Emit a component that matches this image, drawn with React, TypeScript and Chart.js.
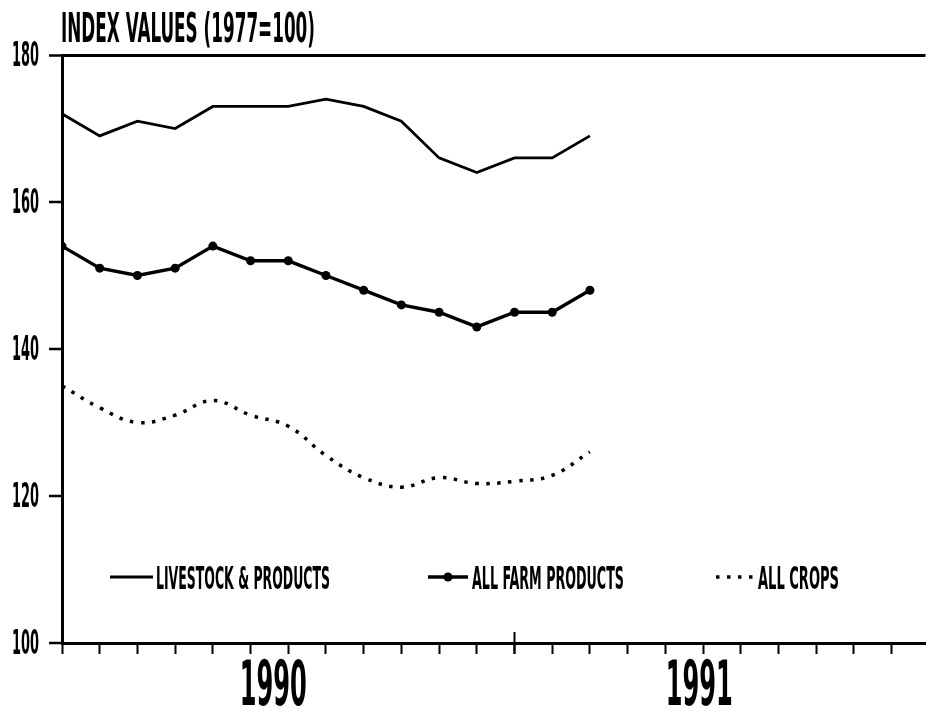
import React, { useEffect, useRef } from 'react';
import { Chart, registerables } from 'chart.js';

Chart.register(...registerables);

// ---- data ----
const TITLE = 'INDEX VALUES (1977=100)';
const months = ['Jan 90', 'Feb 90', 'Mar 90', 'Apr 90', 'May 90', 'Jun 90', 'Jul 90', 'Aug 90', 'Sep 90', 'Oct 90', 'Nov 90', 'Dec 90', 'Jan 91', 'Feb 91', 'Mar 91'];
const livestock = [172, 169, 171, 170, 173, 173, 173, 174, 173, 171, 166, 164, 166, 166, 169];
const allFarm = [154, 151, 150, 151, 154, 152, 152, 150, 148, 146, 145, 143, 145, 145, 148];
const allCrops = [135, 132, 130, 131, 133, 131, 129.5, 125.5, 122.5, 121.2, 122.5, 121.7, 122, 122.8, 126];
const seriesNames = ['LIVESTOCK & PRODUCTS', 'ALL FARM PRODUCTS', 'ALL CROPS'];
const yTicks = [100, 120, 140, 160, 180];
const monthTicks = [0, 1, 2, 3, 4, 5, 6, 7, 8, 9, 10, 11, 12, 13, 14, 15, 16, 17, 18, 19, 20, 21, 22];
const yearLabels = ['1990', '1991'];

const FAMILY = '"Liberation Sans Narrow","DejaVu Sans Condensed","DejaVu Sans",sans-serif';

function fitText(ctx: CanvasRenderingContext2D, text: string, x: number, base: number, cap: number, width: number, weight: string, align: string) {
  ctx.save();
  ctx.font = `${weight} 100px ${FAMILY}`;
  const capRatio = (ctx.measureText('H').actualBoundingBoxAscent || 72) / 100;
  const size = cap / capRatio;
  ctx.font = `${weight} ${size}px ${FAMILY}`;
  const w = ctx.measureText(text).width;
  const sx = width / w;
  const left = align === 'left' ? x : align === 'right' ? x - width : x - width / 2;
  ctx.translate(left, base);
  ctx.scale(sx, 1);
  ctx.fillStyle = '#000';
  ctx.textAlign = 'left';
  ctx.textBaseline = 'alphabetic';
  ctx.fillText(text, 0, 0);
  ctx.restore();
}

const oldStylePlugin = {
  id: 'oldStyle',
  beforeDraw(chart: any) {
    const ctx = chart.ctx;
    ctx.save();
    ctx.fillStyle = '#fff';
    ctx.fillRect(0, 0, chart.width, chart.height);
    ctx.restore();
  },
  afterDraw(chart: any) {
    const ctx: CanvasRenderingContext2D = chart.ctx;
    const { chartArea, scales } = chart;
    const xs = scales.x;
    const ys = scales.y;
    // title
    fitText(ctx, TITLE, 61, 42, 30, 254, 'bold', 'left');
    // y tick labels
    yTicks.forEach((v) => {
      fitText(ctx, String(v), 39, ys.getPixelForValue(v) + 11, 24, 27, 'bold', 'right');
    });
    // year labels (centred mid-year)
    const yearCenters = [5.6, 16.9];
    yearLabels.forEach((t, i) => {
      fitText(ctx, t, xs.getPixelForValue(yearCenters[i]), 705, 45, 67, 'bold', 'center');
    });
    // tall year-boundary tick
    const xb = xs.getPixelForValue(12);
    ctx.save();
    ctx.strokeStyle = '#000';
    ctx.lineWidth = 2;
    ctx.beginPath();
    ctx.moveTo(xb, chartArea.bottom - 11);
    ctx.lineTo(xb, chartArea.bottom + 11);
    ctx.stroke();
    ctx.restore();

    // legend
    const ly = 577;
    const ds = chart.data.datasets;
    ctx.save();
    ctx.strokeStyle = '#000';
    ctx.fillStyle = '#000';
    // 1: solid line
    ctx.lineWidth = ds[0].borderWidth;
    ctx.beginPath();
    ctx.moveTo(110, ly);
    ctx.lineTo(153, ly);
    ctx.stroke();
    // 2: line with marker
    ctx.lineWidth = ds[1].borderWidth;
    ctx.beginPath();
    ctx.moveTo(428, ly);
    ctx.lineTo(468, ly);
    ctx.stroke();
    ctx.beginPath();
    ctx.arc(448, ly, ds[1].pointRadius, 0, Math.PI * 2);
    ctx.fill();
    // 3: dotted
    ctx.lineWidth = ds[2].borderWidth;
    ctx.setLineDash(ds[2].borderDash);
    ctx.beginPath();
    ctx.moveTo(716, ly);
    ctx.lineTo(754, ly);
    ctx.stroke();
    ctx.restore();
    fitText(ctx, seriesNames[0], 156, 589, 23, 174, 'bold', 'left');
    fitText(ctx, seriesNames[1], 472, 589, 23, 152, 'bold', 'left');
    fitText(ctx, seriesNames[2], 758, 589, 23, 81, 'bold', 'left');
  },
};

export default function App() {
  const ref = useRef<HTMLCanvasElement | null>(null);
  useEffect(() => {
    if (!ref.current) return;
    const pts = (arr: number[]) => arr.map((v, i) => ({ x: i, y: v, label: months[i] }));
    const chart = new Chart(ref.current, {
      type: 'line',
      data: {
        datasets: [
          {
            label: seriesNames[0],
            data: pts(livestock),
            borderColor: '#000',
            backgroundColor: '#000',
            borderWidth: 2.8,
            pointRadius: 0,
            tension: 0,
          },
          {
            label: seriesNames[1],
            data: pts(allFarm),
            borderColor: '#000',
            backgroundColor: '#000',
            borderWidth: 3.4,
            pointRadius: 4.5,
            pointStyle: 'circle',
            pointBorderWidth: 0,
            tension: 0,
          },
          {
            label: seriesNames[2],
            data: pts(allCrops),
            borderColor: '#000',
            backgroundColor: '#000',
            borderWidth: 3.5,
            borderDash: [3.5, 7.5],
            pointRadius: 0,
            tension: 0.4,
          },
        ] as any,
      },
      options: {
        animation: false,
        responsive: false,
        events: [],
        layout: { padding: { top: 55, left: 0, right: 0, bottom: 0 } },
        plugins: {
          legend: { display: false },
          title: { display: false },
          tooltip: { enabled: false },
        },
        scales: {
          x: {
            type: 'linear',
            min: 0,
            max: 22.9,
            afterBuildTicks: (s: any) => {
              s.ticks = monthTicks.map((v) => ({ value: v }));
            },
            afterFit: (s: any) => {
              s.height = 75;
            },
            ticks: { display: false },
            grid: {
              drawOnChartArea: false,
              drawTicks: true,
              tickLength: 11,
              tickColor: '#000',
              tickWidth: 2,
            },
            border: { display: true, color: '#000', width: 3 },
          },
          y: {
            min: 100,
            max: 180,
            afterBuildTicks: (s: any) => {
              s.ticks = yTicks.map((v) => ({ value: v }));
            },
            afterFit: (s: any) => {
              s.width = 62;
            },
            ticks: { display: false },
            grid: {
              color: (c: any) => (c.tick && c.tick.value === 180 ? '#000' : 'rgba(0,0,0,0)'),
              lineWidth: (c: any) => (c.tick && c.tick.value === 180 ? 3 : 0),
              drawTicks: true,
              tickLength: 13,
              tickColor: '#000',
              tickWidth: 2.5,
            },
            border: { display: true, color: '#000', width: 3 },
          },
        },
      } as any,
      plugins: [oldStylePlugin],
    });
    return () => chart.destroy();
  }, []);
  return (
    <div style={{ position: 'absolute', left: 0, top: 0, width: 930, height: 718, background: '#fff' }}>
      <canvas ref={ref} width={930} height={718} style={{ display: 'block' }} />
    </div>
  );
}
